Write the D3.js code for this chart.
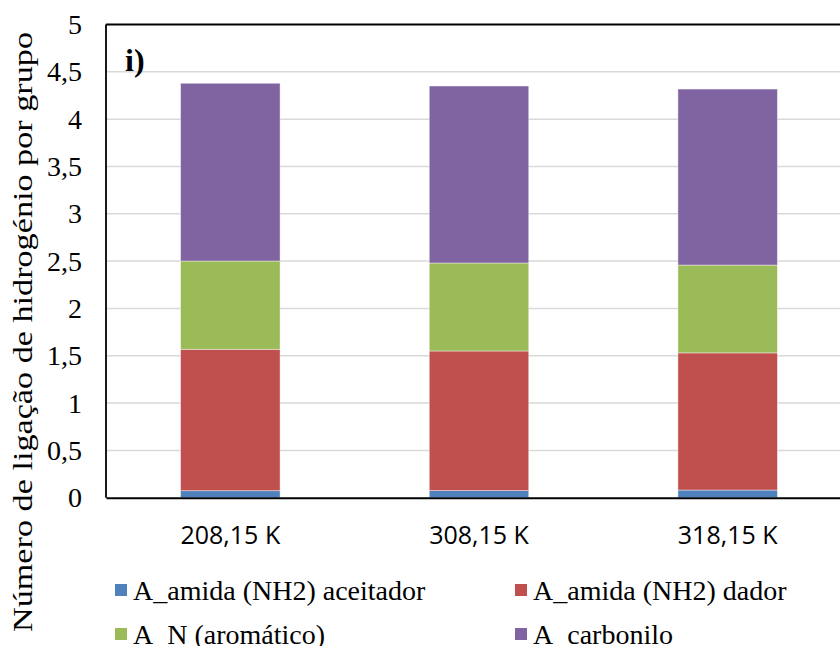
<!DOCTYPE html>
<html>
<head>
<meta charset="utf-8">
<script src="https://cdn.jsdelivr.net/npm/d3@7"></script>
<style>
  html, body { margin: 0; padding: 0; background: #fff; overflow: hidden; }
  svg { display: block; }
  .serif { font-family: "Liberation Serif", "Tinos", "DejaVu Serif", "Noto Serif", serif; }
  .sans { font-family: "Open Sans", "Carlito", Lato, sans-serif; }
</style>
</head>
<body>
<svg id="chart" width="840" height="646"></svg>
<script>
// Temperatures (categories)
const categories = ["208,15 K", "308,15 K", "318,15 K"];

// Hydrogen bonds per group, stacked from bottom to top
const seriesNames = [
  "A_amida (NH2) aceitador",
  "A_amida (NH2) dador",
  "A_N (aromático)",
  "A_carbonilo"
];
const aceitador = [0.074, 0.075, 0.081];
const dador     = [1.494, 1.475, 1.449];
const aromatico = [0.933, 0.930, 0.928];
const carbonilo = [1.878, 1.870, 1.860];

const yTicks = [0, 0.5, 1, 1.5, 2, 2.5, 3, 3.5, 4, 4.5, 5];
const colors = ["#4f81bd", "#c0504d", "#9bbb59", "#8064a2"];

const rows = categories.map((c, i) => ({
  cat: c,
  s0: aceitador[i], s1: dador[i], s2: aromatico[i], s3: carbonilo[i]
}));

const svg = d3.select("#chart");
const plotL = 106, plotR = 852, plotT = 24.5, plotB = 497.7;

const x = d3.scaleBand().domain(categories).range([plotL, plotR])
  .paddingInner(0.6).paddingOuter(0.3);
const y = d3.scaleLinear().domain([0, 5]).range([plotB, plotT]);

// gridlines
svg.append("g").selectAll("line").data(yTicks.filter(t => t > 0 && t < 5)).join("line")
  .attr("x1", plotL).attr("x2", plotR)
  .attr("y1", d => y(d)).attr("y2", d => y(d))
  .attr("stroke", "#d9d9d9").attr("stroke-width", 1.5);

// stacked bars
const stack = d3.stack().keys(["s0", "s1", "s2", "s3"]);
const layers = stack(rows);
svg.append("g").selectAll("g").data(layers).join("g")
  .attr("fill", (d, i) => colors[i])
  .selectAll("rect").data(d => d).join("rect")
  .attr("x", d => x(d.data.cat))
  .attr("width", x.bandwidth())
  .attr("y", d => y(d[1]))
  .attr("height", d => y(d[0]) - y(d[1]))
  .attr("stroke", "#ffffff").attr("stroke-opacity", 0.5).attr("stroke-width", 0.8);

// frame
svg.append("line").attr("x1", plotL).attr("x2", plotR).attr("y1", plotT).attr("y2", plotT)
  .attr("stroke", "#000").attr("stroke-width", 1.8);
svg.append("line").attr("x1", plotL).attr("x2", plotL).attr("y1", plotT).attr("y2", plotB)
  .attr("stroke", "#000").attr("stroke-width", 1.8);

// y axis labels
const yAxis = d3.axisLeft(y).tickValues(yTicks)
  .tickFormat(d => String(d).replace(".", ",")).tickSize(0).tickPadding(24);
const gy = svg.append("g").attr("transform", `translate(${plotL},0)`).call(yAxis);
gy.attr("font-family", null).attr("font-size", null);
gy.select(".domain").remove();
gy.selectAll("text").attr("class", "serif").style("font-size", "28px").attr("fill", "#000");

// x axis
const xAxis = d3.axisBottom(x).tickSize(0).tickPadding(29);
const gx = svg.append("g").attr("transform", `translate(0,${plotB})`).call(xAxis);
gx.attr("font-family", null).attr("font-size", null);
gx.select(".domain").attr("stroke", "#000").attr("stroke-width", 2);
gx.selectAll("text").attr("class", "sans").style("font-size", "25px").attr("fill", "#000");

// y axis title
svg.append("text").attr("class", "serif")
  .attr("transform", "translate(32,332) rotate(-90)")
  .attr("text-anchor", "middle")
  .style("font-size", "28px")
  .attr("textLength", 600).attr("lengthAdjust", "spacingAndGlyphs")
  .text("Número de ligação de hidrogénio por grupo");

// panel tag
svg.append("text").attr("class", "serif").attr("x", 125).attr("y", 71)
  .style("font-size", "32px").attr("font-weight", "bold")
  .text("i)");

// legend
const legendPos = [[115, 590], [515, 590], [115, 634], [515, 634]];
const lg = svg.append("g").selectAll("g").data(seriesNames).join("g")
  .attr("transform", (d, i) => `translate(${legendPos[i][0]},${legendPos[i][1]})`);
lg.append("rect").attr("x", 0).attr("y", -6).attr("width", 12).attr("height", 12)
  .attr("fill", (d, i) => colors[i]);
lg.append("text").attr("class", "serif").attr("x", 18).attr("y", 0).attr("dy", "0.35em")
  .style("font-size", "28px").attr("fill", "#000")
  .text(d => d);
</script>
</body>
</html>
